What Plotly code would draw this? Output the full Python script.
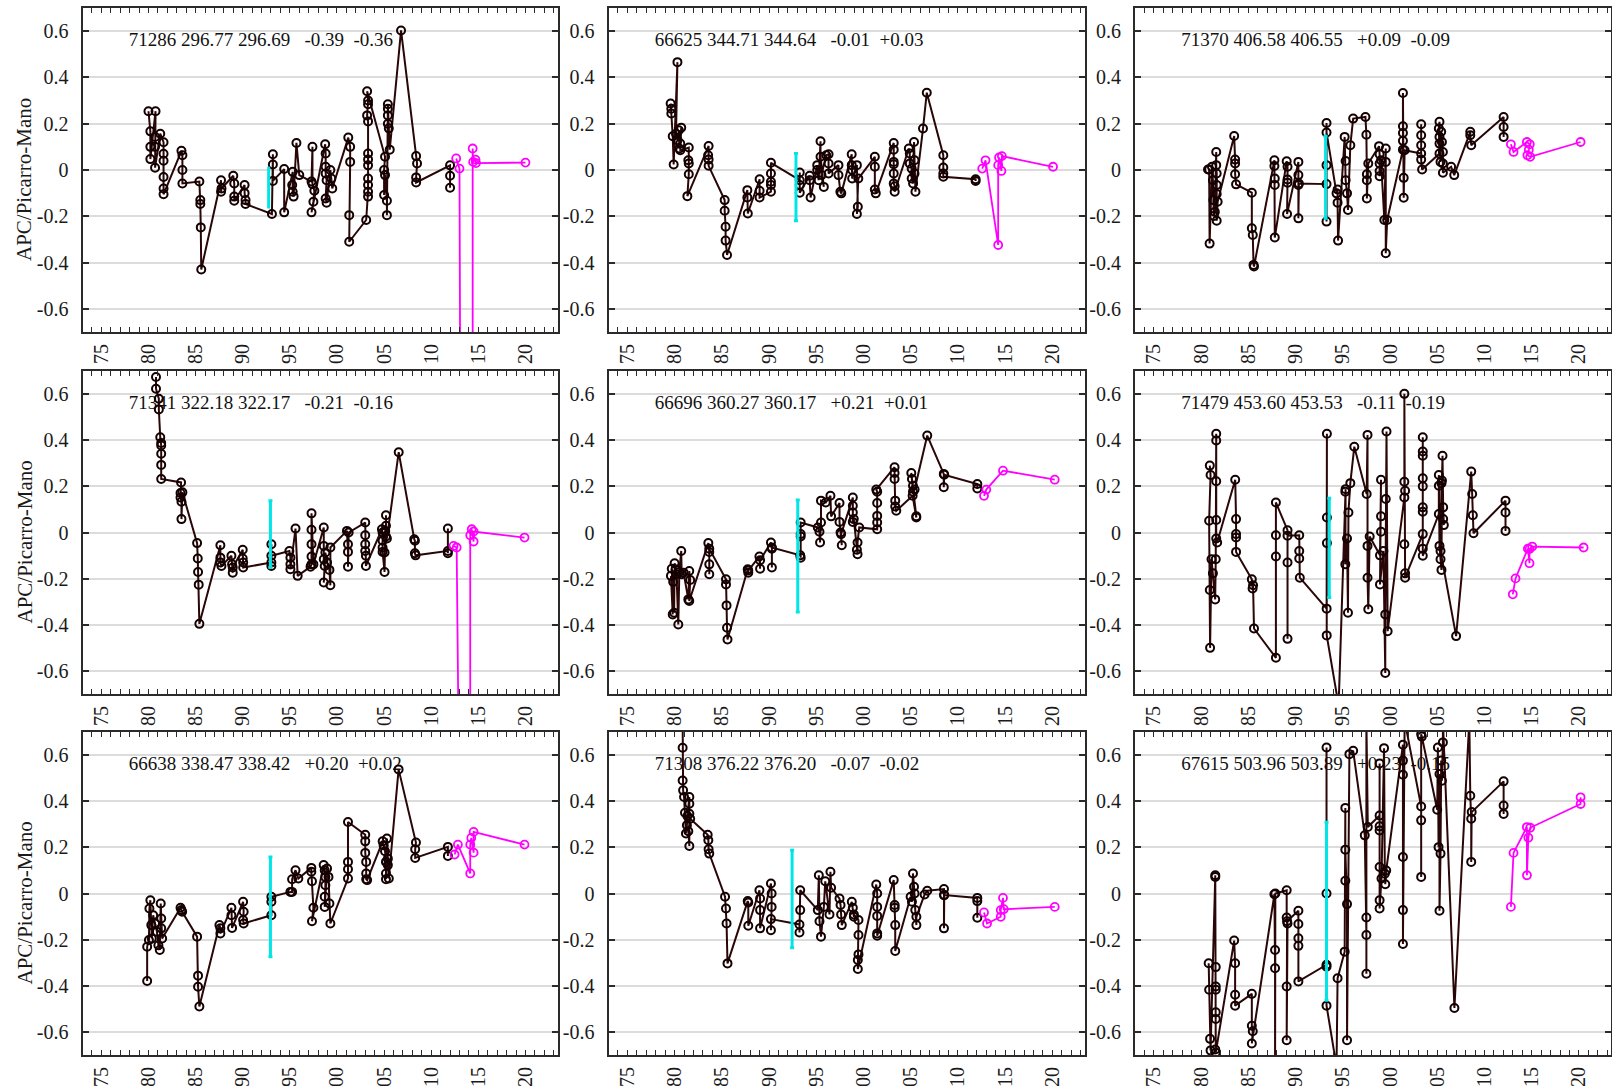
import plotly.graph_objects as go

# ---------------- data ----------------
X_RANGE = [1973.0, 2023.4]
Y_RANGE = [-0.7, 0.7]
x_tick_years = list(range(1973, 2024))
x_tick_text = [f"{y % 100:02d}" if y % 5 == 0 else "" for y in x_tick_years]
y_tick_vals = [-0.6, -0.4, -0.2, 0, 0.2, 0.4, 0.6]
y_tick_text = ["-0.6", "-0.4", "-0.2", "0", "0.2", "0.4", "0.6"]
y_title = "APC/Picarro-Mano"

labels = [
    "71286 296.77 296.69   -0.39  -0.36",
    "66625 344.71 344.64   -0.01  +0.03",
    "71370 406.58 406.55   +0.09  -0.09",
    "71341 322.18 322.17   -0.21  -0.16",
    "66696 360.27 360.17   +0.21  +0.01",
    "71479 453.60 453.53   -0.11  -0.19",
    "66638 338.47 338.42   +0.20  +0.02",
    "71308 376.22 376.20   -0.07  -0.02",
    "67615 503.96 503.89   +0.23  -0.15",
]

# cyan error bar per panel: (year, centre, half-length)
cyan_bars = [
    (1992.75, -0.076, 0.090),
    (1992.85, -0.074, 0.145),
    (1993.18, -0.031, 0.177),
    (1992.94, -0.007, 0.145),
    (1993.04, -0.102, 0.243),
    (1993.57, -0.067, 0.215),
    (1992.94, -0.058, 0.216),
    (1992.44, -0.024, 0.211),
    (1993.28, -0.077, 0.386),
]

p1_main = [(1980.0,0.254),(1980.2,0.167),(1980.2,0.10),(1980.2,0.047),(1980.75,0.254),(1980.7,0.143),(1980.7,0.10),(1980.7,0.01),
    (1981.25,0.157),(1981.6,0.12),(1981.6,0.07),(1981.6,0.04),(1981.6,-0.03),(1981.6,-0.08),(1981.6,-0.105),
    (1983.5,0.083),(1983.6,0.064),(1983.6,0.0),(1983.6,-0.058),(1985.4,-0.05),(1985.5,-0.13),(1985.5,-0.147),(1985.55,-0.248),(1985.6,-0.43),
    (1987.7,-0.044),(1987.7,-0.094),(1987.75,-0.08),(1989.0,-0.025),(1989.1,-0.058),(1989.1,-0.115),(1989.1,-0.133),
    (1990.2,-0.065),(1990.2,-0.1),(1990.3,-0.13),(1990.3,-0.147),(1993.1,-0.19),(1993.2,0.068),(1993.2,0.024),(1993.2,-0.047),
    (1994.4,0.004),(1994.4,-0.183),(1995.3,-0.008),(1995.25,-0.065),(1995.3,-0.094),(1995.4,-0.115),(1995.7,0.117),(1996.0,-0.022),
    (1997.3,-0.05),(1997.4,0.1),(1997.4,-0.061),(1997.6,-0.09),(1997.5,-0.137),(1997.3,-0.183),
    (1998.75,0.111),(1998.8,0.071),(1998.8,0.014),(1998.8,-0.015),(1998.9,-0.044),(1998.8,-0.123),(1998.9,-0.141),
    (1999.3,0.0),(1999.4,-0.037),(1999.5,-0.08),(2001.2,0.14),(2001.4,0.1),(2001.4,0.035),(2001.3,-0.195),(2001.3,-0.31),
    (2003.1,-0.216),(2003.3,-0.115),(2003.3,-0.094),(2003.3,-0.065),(2003.3,-0.037),(2003.3,0.02),(2003.3,0.045),(2003.3,0.071),
    (2003.3,0.21),(2003.2,0.236),(2003.3,0.284),(2003.3,0.3),(2003.2,0.34),
    (2005.1,0.057),(2005.0,0.0),(2005.0,-0.108),(2005.1,-0.022),(2005.3,-0.133),(2005.3,-0.195),(2005.4,0.2),(2005.4,0.236),
    (2005.4,0.265),(2005.4,0.284),(2005.5,0.18),(2005.6,0.088),(2006.8,0.603),
    (2008.4,0.06),(2008.5,0.028),(2008.4,-0.032),(2008.4,-0.054),(2012.0,0.02),(2012.0,-0.025),(2012.0,-0.077)]
p1_new = [(2012.65,0.05),(2013.0,0.006),(2013.25,-3.0),(2014.4,-3.0),(2014.4,0.093),(2014.45,0.035),(2014.7,0.045),(2014.75,0.03),(2020.0,0.032)]

p2_main = [(1979.58,0.287),(1979.65,0.265),(1979.65,0.244),(1979.8,0.146),(1979.9,0.024),(1980.3,0.466),(1980.15,0.157),(1980.3,0.129),
    (1980.45,0.172),(1980.5,0.093),(1980.6,0.114),(1980.7,0.183),(1980.6,0.085),(1981.5,0.097),(1981.45,0.042),(1981.5,0.028),
    (1981.5,-0.018),(1981.35,-0.113),(1983.6,0.104),(1983.55,0.064),(1983.6,0.045),(1983.6,0.018),
    (1985.3,-0.13),(1985.3,-0.176),(1985.4,-0.245),(1985.4,-0.305),(1985.55,-0.367),(1987.7,-0.087),(1987.7,-0.119),(1987.75,-0.188),
    (1989.0,-0.04),(1989.0,-0.09),(1989.0,-0.119),(1990.2,-0.094),(1990.2,-0.065),(1990.2,-0.051),(1990.2,-0.015),(1990.2,0.031),
    (1993.25,-0.044),(1993.25,-0.011),(1993.25,-0.065),(1993.25,-0.098),(1994.3,-0.025),(1994.3,-0.044),(1994.4,-0.119),
    (1995.1,0.021),(1995.1,0.0),(1995.25,-0.044),(1995.45,0.124),(1995.45,0.057),(1995.8,-0.073),(1995.55,-0.022),
    (1996.05,0.064),(1996.3,0.068),(1996.3,0.028),(1996.3,-0.015),(1997.35,0.021),(1997.35,-0.022),(1997.55,-0.094),(1997.65,-0.101),
    (1998.75,0.068),(1998.75,0.021),(1998.8,0.0),(1998.8,-0.037),(1999.3,0.021),(1999.4,-0.159),(1999.3,-0.19),(1999.45,-0.037),
    (2001.2,0.057),(2001.2,0.014),(2001.2,-0.084),(2001.3,-0.101),(2003.2,0.117),(2003.2,0.088),(2003.2,0.035),(2003.2,0.025),
    (2003.2,-0.015),(2003.2,-0.058),(2003.3,-0.07),(2003.3,-0.094),(2004.8,0.093),(2004.9,0.071),(2004.9,0.028),(2005.1,0.006),
    (2005.1,-0.037),(2005.25,-0.058),(2005.35,0.121),(2005.4,0.042),(2005.4,-0.015),(2005.5,-0.094),(2006.3,0.179),(2006.7,0.334),
    (2008.45,0.064),(2008.45,0.011),(2008.45,-0.015),(2008.45,-0.029),(2011.87,-0.04),(2011.87,-0.047)]
p2_new = [(2012.57,0.006),(2012.92,0.042),(2014.26,-0.324),(2014.26,0.021),(2014.35,0.054),(2014.6,-0.004),(2014.65,0.06),(2020.07,0.014)]

p3_main = [(1980.73,0.002),(1980.85,0.002),(1980.9,-0.318),(1981.15,0.014),(1981.25,-0.044),(1981.3,-0.13),(1981.35,-0.199),(1981.45,-0.181),
    (1981.6,0.078),(1981.6,0.021),(1981.65,-0.015),(1981.65,-0.065),(1981.65,-0.104),(1981.65,-0.219),(1981.75,-0.137),
    (1983.5,0.147),(1983.6,0.045),(1983.6,0.028),(1983.6,-0.018),(1983.7,-0.062),(1985.37,-0.098),(1985.37,-0.252),(1985.47,-0.281),
    (1985.55,-0.41),(1985.6,-0.417),(1987.76,0.042),(1987.76,0.017),(1987.8,-0.037),(1987.8,-0.065),(1987.8,-0.292),
    (1989.06,0.038),(1989.15,0.014),(1989.15,-0.041),(1989.15,-0.055),(1989.1,-0.19),
    (1990.3,0.035),(1990.3,-0.022),(1990.3,-0.209),(1990.3,-0.065),(1990.35,-0.058),
    (1993.28,-0.061),(1993.28,-0.223),(1993.28,0.021),(1993.28,0.203),(1993.28,0.162),
    (1994.34,-0.101),(1994.45,-0.084),(1994.45,-0.141),(1994.5,-0.305),(1995.2,0.143),(1995.3,0.039),(1995.3,-0.044),(1995.45,-0.101),
    (1995.55,-0.173),(1995.8,0.107),(1996.1,0.222),(1997.4,0.229),(1997.5,0.152),(1997.55,-0.018),(1997.55,-0.044),(1997.55,-0.123),
    (1997.7,0.028),(1998.84,0.103),(1998.9,0.068),(1998.9,0.028),(1998.9,-0.004),(1998.9,-0.027),(1999.05,0.042),(1999.4,-0.216),
    (1999.55,0.093),(1999.55,0.035),(1999.55,-0.36),(1999.7,-0.216),(2001.37,0.088),(2001.37,0.126),(2001.37,0.16),(2001.37,0.189),
    (2001.37,0.333),(2001.45,-0.034),(2001.45,-0.12),(2001.55,0.085),(2003.3,0.071),(2003.3,0.198),(2003.3,0.15),(2003.3,0.107),
    (2003.3,0.045),(2003.4,0.002),(2005.24,0.071),(2005.17,0.179),(2005.24,0.208),(2005.24,0.143),(2005.24,0.114),(2005.35,0.035),
    (2005.42,0.165),(2005.5,0.121),(2005.6,0.078),(2005.6,0.028),(2005.6,-0.012),(2006.47,0.014),(2006.8,-0.022),
    (2008.5,0.165),(2008.5,0.15),(2008.6,0.107),(2012.03,0.229),(2012.03,0.186),(2012.03,0.143)]
p3_new = [(2012.8,0.111),(2013.08,0.078),(2014.49,0.121),(2014.8,0.111),(2014.7,0.088),(2014.55,0.064),(2014.84,0.057),(2020.18,0.121)]

p4_main = [(1980.8,0.674),(1980.8,0.623),(1981.1,0.58),(1981.1,0.533),(1981.25,0.413),(1981.35,0.388),(1981.35,0.377),(1981.35,0.341),
    (1981.35,0.293),(1981.35,0.232),(1983.46,0.217),(1983.4,0.171),(1983.4,0.152),(1983.5,0.133),(1983.5,0.058),(1983.6,0.174),
    (1985.16,-0.046),(1985.23,-0.113),(1985.26,-0.171),(1985.33,-0.226),(1985.4,-0.396),(1987.63,-0.055),(1987.63,-0.109),
    (1987.63,-0.13),(1987.74,-0.145),(1988.8,-0.101),(1988.87,-0.138),(1988.94,-0.174),(1988.94,-0.152),(1990.0,-0.075),
    (1990.0,-0.113),(1990.05,-0.13),(1990.05,-0.152),(1993.04,-0.13),(1993.04,-0.051),(1993.04,-0.145),(1993.04,-0.101),
    (1994.95,-0.08),(1995.06,-0.109),(1995.06,-0.138),(1995.06,-0.159),(1995.6,0.017),(1995.83,-0.188),(1997.2,-0.148),
    (1997.3,-0.138),(1997.3,-0.104),(1997.3,-0.051),(1997.3,0.012),(1997.3,0.083),(1997.5,-0.138),(1998.6,0.022),(1998.6,-0.058),
    (1998.6,-0.116),(1998.7,-0.145),(1998.6,-0.217),(1998.77,-0.087),(1998.95,-0.13),(1999.2,-0.162),(1999.3,-0.229),(1999.3,-0.065),
    (2001.06,0.007),(2001.17,-0.051),(2001.17,-0.084),(2001.17,-0.148),(2001.24,0.0),(2003.0,0.043),(2003.0,-0.012),(2003.0,-0.051),
    (2003.0,-0.08),(2003.07,-0.101),(2003.07,-0.145),(2004.77,0.014),(2004.84,0.0),(2004.84,-0.036),(2004.84,-0.065),(2004.84,-0.084),
    (2005.05,-0.171),(2005.05,-0.087),(2005.12,0.007),(2005.2,-0.017),(2005.2,0.075),(2005.2,0.029),(2005.3,-0.026),(2006.55,0.348),
    (2008.2,-0.029),(2008.27,-0.036),(2008.27,-0.09),(2008.34,-0.099),(2011.77,-0.08),(2011.77,0.017),(2011.77,-0.09)]
p4_new = [(2012.37,-0.058),(2012.7,-0.065),(2013.43,-3.0),(2014.14,-3.0),(2014.14,-0.012),(2014.3,0.014),(2014.5,-0.039),(2014.5,0.004),(2019.9,-0.022)]

p5_main = [(1979.61,-0.188),(1979.8,-0.355),(1979.7,-0.157),(1979.85,-0.214),(1979.95,-0.348),(1980.0,-0.133),(1980.1,-0.159),
    (1980.2,-0.181),(1980.39,-0.399),(1980.5,-0.171),(1980.7,-0.08),(1980.75,-0.181),(1980.95,-0.174),(1981.45,-0.29),
    (1981.55,-0.167),(1981.65,-0.206),(1981.55,-0.297),(1983.57,-0.046),(1983.67,-0.084),(1983.67,-0.138),(1983.67,-0.181),
    (1983.67,-0.07),(1985.44,-0.203),(1985.44,-0.225),(1985.5,-0.316),(1985.55,-0.413),(1985.6,-0.464),(1987.74,-0.159),
    (1987.8,-0.174),(1987.8,-0.165),(1988.98,-0.104),(1989.05,-0.157),(1989.05,-0.12),(1990.2,-0.043),(1990.3,-0.07),
    (1990.3,-0.152),(1990.3,-0.065),(1993.3,-0.099),(1993.35,-0.109),(1993.35,-0.017),(1993.35,-0.007),(1993.35,0.043),
    (1995.16,0.022),(1995.34,0.003),(1995.4,-0.043),(1995.5,0.043),(1995.5,0.138),(1996.0,0.13),(1996.5,0.159),(1996.57,0.07),
    (1997.46,0.128),(1997.46,0.046),(1997.57,0.0),(1997.7,-0.055),(1997.63,-0.007),(1998.87,0.152),(1998.87,0.116),(1998.87,0.087),
    (1998.87,0.046),(1998.97,0.058),(1999.3,-0.075),(1999.37,-0.094),(1999.37,-0.043),(1999.55,0.022),(2001.45,0.014),(2001.45,0.043),
    (2001.45,0.072),(2001.45,0.128),(2001.45,0.177),(2001.35,0.186),(2003.29,0.283),(2003.29,0.258),(2003.29,0.232),(2003.36,0.138),
    (2003.36,0.113),(2003.47,0.094),(2005.2,0.159),(2005.59,0.065),(2005.59,0.07),(2005.06,0.258),(2005.13,0.232),(2005.24,0.203),
    (2005.24,0.177),(2005.41,0.186),(2006.75,0.42),(2008.5,0.254),(2008.5,0.196),(2008.55,0.25),(2012.05,0.21),(2012.05,0.191)]
p5_new = [(2012.76,0.159),(2013.0,0.186),(2014.77,0.268),(2020.25,0.229)]

p6_main = [(1980.92,0.29),(1981.0,0.249),(1980.85,0.051),(1980.92,-0.249),(1980.95,-0.5),(1981.1,-0.116),(1981.25,-0.177),
    (1981.49,-0.29),(1981.55,-0.116),(1981.6,0.428),(1981.6,0.399),(1981.6,0.222),(1981.6,0.054),(1981.6,-0.026),(1981.7,-0.043),
    (1983.61,0.229),(1983.7,0.058),(1983.7,-0.007),(1983.7,-0.022),(1983.7,-0.084),(1985.37,-0.203),(1985.45,-0.243),(1985.5,-0.229),
    (1985.6,-0.416),(1987.92,-0.543),(1987.92,-0.104),(1987.92,-0.012),(1987.92,0.13),(1989.15,0.01),(1989.15,-0.461),
    (1989.15,-0.13),(1989.15,-0.014),(1990.39,-0.012),(1990.39,-0.08),(1990.39,-0.113),(1990.45,-0.196),
    (1993.29,-0.33),(1993.32,0.428),(1993.32,0.065),(1993.32,-0.046),(1993.3,-0.446),(1994.56,-0.75),
    (1995.27,0.177),(1995.3,0.188),(1995.27,-0.138),(1995.45,-0.026),(1995.55,-0.348),(1995.6,0.087),(1995.8,0.214),(1996.22,0.372),
    (1997.53,0.167),(1997.62,0.423),(1997.62,-0.058),(1997.62,-0.196),(1997.7,-0.333),(1997.85,-0.017),(1998.94,-0.099),
    (1999.05,0.229),(1999.05,0.07),(1999.05,0.003),(1998.94,-0.225),(1999.3,-0.08),(1999.5,-0.609),(1999.5,-0.355),(1999.55,0.145),
    (1999.63,0.438),(1999.75,-0.428),(2001.52,0.152),(2001.52,0.601),(2001.52,0.22),(2001.6,0.181),(2001.52,-0.051),(2001.6,-0.177),
    (2001.6,-0.196),(2003.47,-0.007),(2003.47,0.413),(2003.47,0.351),(2003.47,0.333),(2003.47,0.235),(2003.47,0.2),(2003.47,0.109),
    (2003.47,0.09),(2003.47,-0.07),(2003.47,-0.101),(2005.17,0.08),(2005.17,0.249),(2005.17,0.203),(2005.24,-0.058),(2005.35,-0.116),
    (2005.45,-0.162),(2005.5,0.225),(2005.56,0.333),(2005.63,0.109),(2005.63,0.058),(2005.7,0.032),(2005.45,0.214),(2005.35,-0.08),
    (2007.0,-0.449),(2008.6,0.264),(2008.7,0.167),(2008.77,0.075),(2008.84,-0.003),(2012.23,0.138),(2012.23,0.087),(2012.23,0.007)]
p6_new = [(2013.0,-0.268),(2013.29,-0.199),(2014.6,-0.07),(2014.77,-0.133),(2014.77,-0.072),(2015.06,-0.061),(2020.5,-0.065)]

p7_main = [(1979.86,-0.379),(1979.86,-0.231),(1980.05,-0.202),(1980.1,-0.065),(1980.2,-0.029),(1980.3,-0.137),(1980.35,-0.195),
    (1980.5,-0.094),(1980.7,-0.13),(1980.9,-0.166),(1981.05,-0.224),(1981.2,-0.245),(1981.3,-0.043),(1981.35,-0.108),(1981.35,-0.151),
    (1981.45,-0.195),(1983.4,-0.062),(1983.5,-0.072),(1983.57,-0.079),(1985.16,-0.187),(1985.26,-0.356),(1985.26,-0.404),(1985.4,-0.49),
    (1987.53,-0.137),(1987.63,-0.151),(1987.63,-0.173),(1988.8,-0.062),(1988.8,-0.094),(1988.87,-0.149),(1990.04,-0.036),
    (1990.1,-0.079),(1990.04,-0.115),(1990.1,-0.13),(1993.04,-0.094),(1993.04,-0.036),(1993.04,-0.014),(1995.06,0.007),(1995.24,0.007),
    (1995.24,0.062),(1995.6,0.101),(1995.9,0.065),(1997.28,0.111),(1997.28,0.094),(1997.35,0.053),(1997.5,-0.062),(1997.35,-0.12),
    (1998.59,0.123),(1998.7,0.101),(1998.77,0.072),(1998.77,0.036),(1998.7,-0.014),(1998.7,-0.058),(1998.95,0.108),(1999.1,0.072),
    (1999.2,-0.043),(1999.3,-0.13),(2001.17,0.065),(2001.17,0.105),(2001.17,0.137),(2001.17,0.31),(2003.0,0.255),(2003.0,0.226),
    (2003.0,0.176),(2003.1,0.137),(2003.1,0.087),(2003.1,0.062),(2003.2,0.058),(2004.85,0.226),(2004.95,0.209),(2005.1,0.183),
    (2005.2,0.137),(2005.2,0.087),(2005.2,0.062),(2005.3,0.238),(2005.4,0.151),(2005.4,0.123),(2005.5,0.065),(2006.54,0.538),
    (2008.38,0.221),(2008.3,0.192),(2008.3,0.154),(2011.77,0.202),(2011.77,0.163)]
p7_new = [(2012.48,0.169),(2012.83,0.212),(2014.14,0.087),(2014.14,0.212),(2014.25,0.241),(2014.5,0.177),(2014.5,0.267),(2019.9,0.212)]

p8_main = [(1980.85,0.75),(1980.85,0.632),(1980.85,0.49),(1980.9,0.447),(1981.0,0.418),(1981.1,0.35),(1981.2,0.26),(1981.3,0.296),
    (1981.35,0.336),(1981.56,0.418),(1981.56,0.389),(1981.56,0.346),(1981.56,0.206),(1981.45,0.27),(1981.65,0.324),
    (1983.5,0.255),(1983.57,0.231),(1983.6,0.192),(1983.67,0.173),(1985.34,-0.014),(1985.44,-0.065),(1985.5,-0.13),(1985.6,-0.303),
    (1987.74,-0.033),(1987.8,-0.039),(1987.8,-0.14),(1988.98,0.014),(1989.05,-0.022),(1989.05,-0.072),(1989.05,-0.151),
    (1990.2,0.043),(1990.27,0.0),(1990.27,-0.058),(1990.2,-0.159),(1990.2,-0.111),(1993.22,-0.134),(1993.22,-0.169),(1993.3,-0.072),
    (1993.3,0.014),(1995.16,-0.072),(1995.27,0.079),(1995.34,-0.12),(1995.5,-0.187),(1995.8,-0.058),(1995.95,0.053),(1996.4,-0.091),
    (1996.5,0.094),(1996.57,0.025),(1997.46,-0.022),(1997.57,-0.05),(1997.63,-0.091),(1997.7,-0.137),(1998.76,-0.036),
    (1998.87,-0.062),(1998.98,-0.101),(1998.98,-0.091),(1999.47,-0.115),(1999.47,-0.18),(1999.47,-0.264),(1999.4,-0.288),
    (1999.4,-0.327),(2001.35,0.039),(2001.45,0.0),(2001.45,-0.058),(2001.45,-0.097),(2001.45,-0.173),(2001.45,-0.183),
    (2003.2,0.058),(2003.3,-0.05),(2003.3,-0.062),(2003.36,-0.137),(2003.36,-0.249),(2004.99,-0.014),(2005.13,-0.036),(2005.24,0.087),
    (2005.35,0.029),(2005.41,0.0),(2005.48,-0.072),(2005.6,-0.137),(2005.6,-0.101),(2006.47,-0.004),(2006.75,0.012),
    (2008.52,0.019),(2008.52,-0.007),(2008.52,-0.151),(2008.55,-0.007),(2012.05,-0.019),(2012.05,-0.033),(2012.05,-0.105)]
p8_new = [(2012.76,-0.082),(2013.08,-0.13),(2014.53,-0.101),(2014.53,-0.072),(2014.77,-0.019),(2014.85,-0.068),(2020.25,-0.058)]

p9_main = [(1980.8,-0.302),(1980.85,-0.417),(1980.95,-0.63),(1981.0,-0.68),(1981.5,0.079),(1981.5,0.072),(1981.55,-0.319),
    (1981.55,-0.403),(1981.55,-0.417),(1981.55,-0.515),(1981.55,-0.544),(1981.5,-0.676),(1981.55,-0.69),(1983.5,-0.204),
    (1983.6,-0.302),(1983.6,-0.439),(1983.6,-0.486),(1985.37,-0.435),(1985.37,-0.573),(1985.47,-0.597),(1985.37,-0.65),
    (1987.76,-0.003),(1987.83,-0.245),(1987.83,-0.324),(1987.83,-0.78),(1987.86,0.0),(1989.06,0.014),(1989.06,-0.104),
    (1989.15,-0.13),(1989.06,-0.403),(1989.06,-0.636),(1989.1,-0.12),(1990.3,-0.075),(1990.3,-0.132),(1990.3,-0.194),
    (1990.3,-0.227),(1990.3,-0.381),(1993.28,-0.309),(1993.28,-0.317),(1993.28,0.0),(1993.28,0.633),(1993.28,-0.486),
    (1994.34,-0.75),(1994.45,-0.367),(1995.2,-0.252),(1995.27,0.055),(1995.27,0.371),(1995.27,0.19),(1995.45,-0.046),
    (1995.45,-0.636),(1995.7,0.604),(1996.1,0.619),(1997.33,0.252),(1997.5,-0.104),(1997.5,-0.18),(1997.5,-0.348),(1997.5,0.75),
    (1997.65,0.288),(1998.9,0.338),(1998.9,0.291),(1998.9,0.273),(1998.9,0.564),(1998.9,0.115),(1998.9,-0.029),(1998.9,-0.065),
    (1999.1,0.065),(1999.37,0.63),(1999.45,0.086),(1999.5,0.04),(1999.6,0.1),(2001.37,0.645),(2001.37,0.576),(2001.37,0.515),
    (2001.37,0.158),(2001.37,-0.072),(2001.37,-0.219),(2001.55,0.75),(2003.3,0.377),(2003.3,0.317),(2003.3,0.072),(2003.3,0.69),
    (2003.37,0.68),(2005.0,0.363),(2005.07,0.633),(2005.14,0.201),(2005.24,0.518),(2005.24,-0.075),(2005.35,0.173),(2005.42,0.576),
    (2005.5,0.489),(2005.6,0.655),(2005.6,0.75),(2006.82,-0.496),(2008.4,0.75),(2008.5,0.424),(2008.6,0.324),(2008.6,0.137),
    (2008.65,0.353),(2012.03,0.486),(2012.03,0.381),(2012.03,0.345)]
p9_new = [(2012.8,-0.058),(2013.08,0.176),(2014.49,0.288),(2014.5,0.079),(2014.65,0.242),(2014.84,0.285),(2020.18,0.388),(2020.18,0.417)]

main_series = [p1_main, p2_main, p3_main, p4_main, p5_main, p6_main, p7_main, p8_main, p9_main]
new_series = [p1_new, p2_new, p3_new, p4_new, p5_new, p6_new, p7_new, p8_new, p9_new]

# ---------------- layout geometry ----------------
W, H = 1612, 1086
col_px = [(82.5, 557.5), (608.5, 1084.5), (1135.0, 1611.0)]
row_px = [(8.0, 332.0), (371.0, 694.0), (732.0, 1055.0)]

FONT = "Liberation Serif, Times New Roman, serif"
AX_COLOR = "#2b2b2b"
MAIN_LINE = "#2a0606"
MAIN_MARK = "#140000"
NEW_COLOR = "#ff00ff"
CYAN = "#00e6e6"
label_x = 1977.9
label_y = 0.557

fig = go.Figure()
layout = dict(
    width=W, height=H,
    margin=dict(l=0, r=0, t=0, b=0),
    paper_bgcolor="white", plot_bgcolor="white",
    showlegend=False, hovermode=False,
    font=dict(family=FONT, color="#1a1a1a"),
    annotations=[],
)

for i in range(9):
    r, c = divmod(i, 3)
    n = "" if i == 0 else str(i + 1)
    xa, ya = "x" + n, "y" + n
    x0, x1 = col_px[c]
    t, b = row_px[r]
    layout["xaxis" + n] = dict(
        domain=[x0 / W, x1 / W], anchor=ya, range=X_RANGE,
        tickmode="array", tickvals=x_tick_years, ticktext=x_tick_text,
        tickangle=-90, ticks="inside", ticklen=5, tickwidth=1.4, tickcolor=AX_COLOR,
        showline=True, linecolor=AX_COLOR, linewidth=2, mirror="ticks",
        showgrid=False, zeroline=False,
        tickfont=dict(family=FONT, size=20, color="#1a1a1a"),
        ticklabelstandoff=2,
    )
    layout["yaxis" + n] = dict(
        domain=[1 - b / H, 1 - t / H], anchor=xa, range=Y_RANGE,
        tickmode="array", tickvals=y_tick_vals, ticktext=y_tick_text,
        ticks="inside", ticklen=6, tickwidth=1.6, tickcolor=AX_COLOR,
        showline=True, linecolor=AX_COLOR, linewidth=2, mirror="ticks",
        showgrid=True, gridcolor="#dcdcdc", gridwidth=2, zeroline=False,
        tickfont=dict(family=FONT, size=20, color="#1a1a1a"),
        ticklabelstandoff=8,
    )

    # label text (drawn first so the data lies on top of it)
    fig.add_trace(go.Scatter(
        x=[label_x], y=[label_y], mode="text",
        text=[labels[i].replace(" ", "\u00a0")], textposition="middle right",
        textfont=dict(family=FONT, size=19, color="#111111"),
        xaxis=xa, yaxis=ya, hoverinfo="skip", cliponaxis=False,
    ))

    mx = [p[0] for p in main_series[i]]
    my = [p[1] for p in main_series[i]]
    fig.add_trace(go.Scatter(
        x=mx, y=my, mode="lines+markers", xaxis=xa, yaxis=ya,
        line=dict(color=MAIN_LINE, width=2),
        marker=dict(symbol="circle-open", size=8, color=MAIN_MARK, line=dict(width=2)),
        cliponaxis=True,
    ))

    nx = [p[0] for p in new_series[i]]
    ny = [p[1] for p in new_series[i]]
    fig.add_trace(go.Scatter(
        x=nx, y=ny, mode="lines+markers", xaxis=xa, yaxis=ya,
        line=dict(color=NEW_COLOR, width=1.8),
        marker=dict(symbol="circle-open", size=8, color=NEW_COLOR, line=dict(width=1.8)),
        cliponaxis=True,
    ))

    cx, cy, ch = cyan_bars[i]
    fig.add_trace(go.Scatter(
        x=[cx], y=[cy], mode="markers", xaxis=xa, yaxis=ya,
        marker=dict(size=1, color="rgba(0,0,0,0)"),
        error_y=dict(type="data", array=[ch], color=CYAN, thickness=3, width=0 if i == 0 else 2),
    ))

    if c == 0:
        layout["annotations"].append(dict(
            text=y_title, textangle=-90, xref="paper", yref="paper",
            x=24 / W, y=1 - ((t + b) / 2 + 10) / H, xanchor="center", yanchor="middle",
            showarrow=False, font=dict(family=FONT, size=21, color="#1a1a1a"),
        ))

fig.update_layout(**layout)
fig.write_html("out.html")
